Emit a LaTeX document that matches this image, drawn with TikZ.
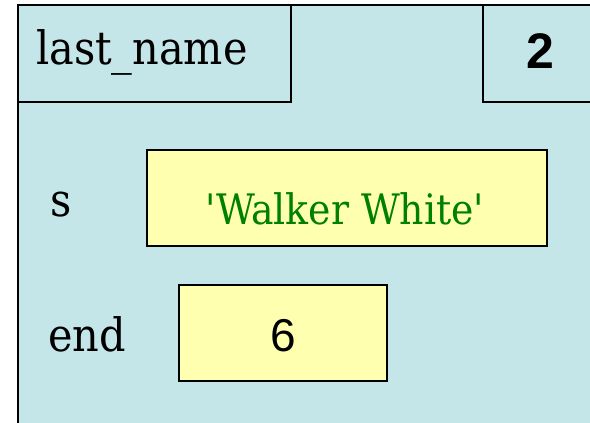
\documentclass[tikz,border=0pt]{standalone}
\usepackage{fontspec}
\setmainfont{DejaVu Serif Condensed}
\newfontfamily\numfont{Liberation Sans}
\definecolor{frameblue}{RGB}{196,230,233}
\definecolor{valyellow}{RGB}{255,255,176}
\definecolor{strgreen}{RGB}{0,128,0}
\begin{document}
\begin{tikzpicture}[x=1pt,y=1pt,
  outline/.style={draw=black,line width=2.6pt},
  valbox/.style={outline,fill=valyellow,inner sep=0pt},
  lbl/.style={inner sep=0pt,font=\fontsize{46}{50}\selectfont}]
\useasboundingbox (0,0) rectangle (590,423);
\clip (0,0) rectangle (590,423);
% frame
\path[fill=frameblue,outline] (18,-20) rectangle (620,418);
% header boxes
\node[outline,minimum width=273pt,minimum height=97pt,inner sep=0pt] (hdr) at (154.5,369.5) {};
\node[lbl,anchor=west] (name) at (36,371) {last\_name};
\node[outline,minimum width=137pt,minimum height=97pt,inner sep=0pt] (numbox) at (551.5,369.5) {};
\node[inner sep=0pt,font=\numfont\bfseries\fontsize{50}{54}\selectfont] (num) at (540,372) {2};
% variables
\node[lbl] (s) at (61,218) {s};
\node[valbox,minimum width=400pt,minimum height=96pt] (sval) at (347,225) {};
\node[inner sep=0pt,text=strgreen,font=\fontsize{42}{46}\selectfont] (stext) at (345,214) {\textquotesingle Walker White\textquotesingle};
\node[lbl] (end) at (87,89) {end};
\node[valbox,minimum width=208pt,minimum height=96pt] (eval) at (283,90) {};
\node[inner sep=0pt,font=\numfont\fontsize{46}{50}\selectfont] (etext) at (283,87) {6};
\end{tikzpicture}
\end{document}
